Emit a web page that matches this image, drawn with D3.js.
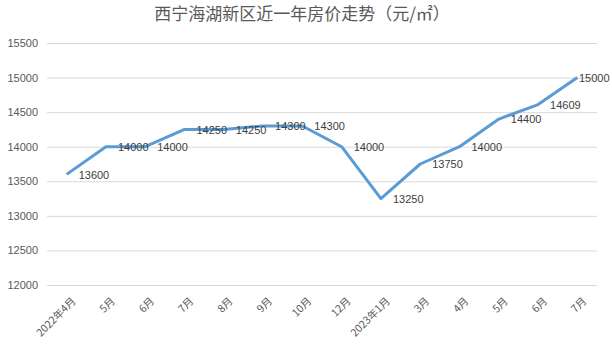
<!DOCTYPE html>
<html><head><meta charset="utf-8">
<script src="https://cdn.jsdelivr.net/npm/d3@7"></script>
<style>body{margin:0;background:#fff}svg{display:block}</style>
</head><body>
<script>
const categories = ["2022年4月","5月","6月","7月","8月","9月","10月","12月","2023年1月","3月","4月","5月","6月","7月"];
const values = [13600,14000,14000,14250,14250,14300,14300,14000,13250,13750,14000,14400,14609,15000];
const yTicks = [12000,12500,13000,13500,14000,14500,15000,15500];
const title = "西宁海湖新区近一年房价走势（元/㎡）";

const W = 612, H = 344;
const m = {left: 47, right: 15, top: 43, bottom: 59};
const svg = d3.select("body").append("svg").attr("width", W).attr("height", H);
const font = "'Noto Sans CJK SC', 'DejaVu Sans', sans-serif";

const x = d3.scaleBand().domain(d3.range(categories.length)).range([m.left, W - m.right]);
const y = d3.scaleLinear().domain([12000, 15500]).range([H - m.bottom, m.top]);

svg.append("text").attr("x", 302).attr("y", 20).attr("text-anchor", "middle")
  .attr("font-family", font).attr("font-size", 17).attr("fill", "#595959").text(title);

const ya = svg.append("g").attr("transform", `translate(${m.left},0)`)
  .call(d3.axisLeft(y).tickValues(yTicks).tickSize(-(W - m.left - m.right)).tickPadding(9).tickFormat(d3.format("d")));
ya.select(".domain").remove();
ya.selectAll("line").attr("stroke", "#d9d9d9").attr("stroke-width", 1);
ya.selectAll("text").attr("font-family", "'Liberation Sans', Arial, sans-serif").attr("font-size", 11).attr("fill", "#595959");

const xa = svg.append("g").attr("transform", `translate(0,${H - m.bottom})`)
  .call(d3.axisBottom(x).tickFormat(i => categories[i]).tickSize(0));
xa.select(".domain").remove();
xa.selectAll("text").attr("font-family", font).attr("font-size", 10.5).attr("fill", "#595959")
  .attr("text-anchor", "end").attr("dy", "0.35em")
  .attr("transform", "translate(5,12) rotate(-45)");

const cx = i => x(i) + x.bandwidth() / 2;
const line = d3.line().x((d, i) => cx(i)).y(d => y(d));
svg.append("path").datum(values).attr("d", line).attr("fill", "none")
  .attr("stroke", "#5B9BD5").attr("stroke-width", 3).attr("stroke-linejoin", "round");

svg.append("g").selectAll("text").data(values).join("text")
  .attr("x", (d, i) => Math.min(cx(i) + 12, W - 33))
  .attr("y", d => y(d)).attr("dy", "0.4em")
  .attr("font-family", "'Liberation Sans', Arial, sans-serif").attr("font-size", 11).attr("fill", "#404040")
  .text(d => d);
</script>
</body></html>
